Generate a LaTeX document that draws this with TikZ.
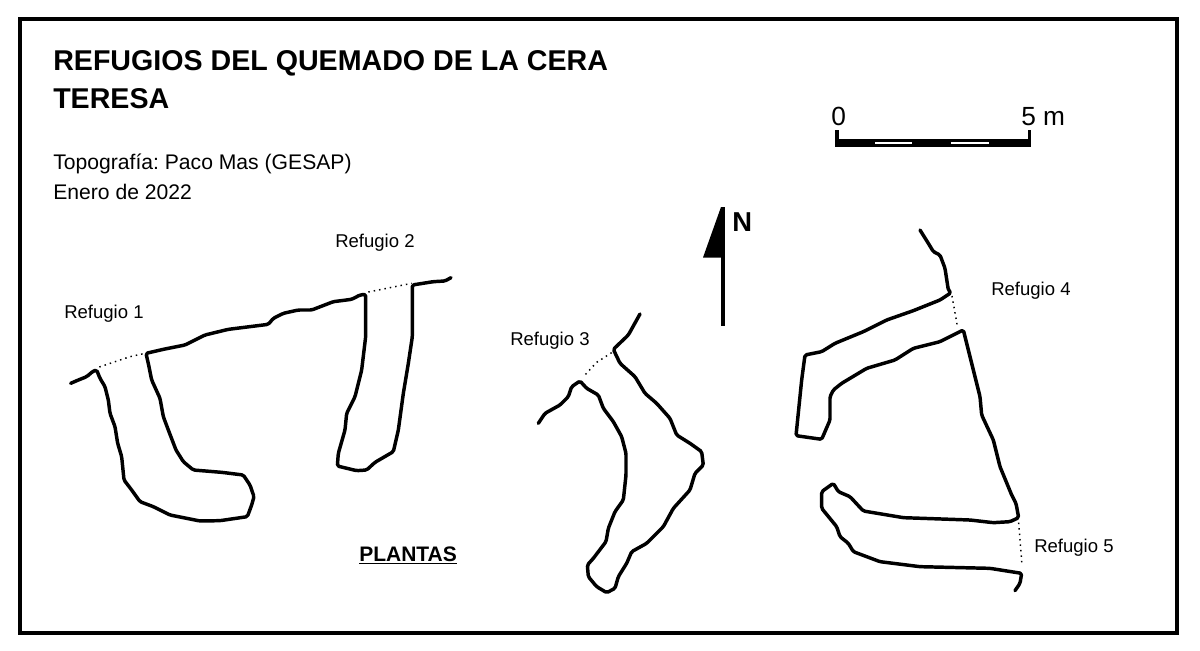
\documentclass[tikz,border=0pt]{standalone}
\usepackage{fontspec}
\setmainfont{Liberation Sans}
\frenchspacing
\tikzset{
  x=0.75pt,y=-0.75pt,
  wall/.style={line width=2.6pt,line join=round,line cap=round,rounded corners=1.2pt},
  dots/.style={line width=1.1pt,dash pattern=on 1.1pt off 3pt},
  titletxt/.style={anchor=base west,inner sep=0pt,font=\fontsize{21.46pt}{24pt}\selectfont\bfseries},
  smalltxt/.style={anchor=base west,inner sep=0pt,font=\fontsize{15.85pt}{18pt}\selectfont},
  reftxt/.style={anchor=base west,inner sep=0pt,font=\fontsize{13.9pt}{16pt}\selectfont},
  scaletxt/.style={anchor=base west,inner sep=0pt,font=\fontsize{19.7pt}{22pt}\selectfont},
  zoomA/.style={shift={(50,230)},x=0.25pt,y=-0.25pt},
  zoomB/.style={shift={(500,200)},x=0.25pt,y=-0.25pt},
  zoomC/.style={shift={(780,220)},x=0.25pt,y=-0.25pt},
}
\begin{document}
\begin{tikzpicture}
\useasboundingbox (0,0) rectangle (1200,650);
\fill[white] (0,0) rectangle (1200,650);
\draw[line width=2.8pt] (20,19) rectangle (1177,633);
\node[titletxt] (t1) at (53,70) {REFUGIOS DEL QUEMADO DE LA CERA};
\node[titletxt] (t2) at (53,108) {TERESA};
\node[smalltxt] (t3) at (53,169) {Topografía: Paco Mas (GESAP)};
\node[smalltxt] (t4) at (53,199) {Enero de 2022};
\node[reftxt] (r1) at (64,318) {Refugio 1};
\node[reftxt] (r2) at (335,247) {Refugio 2};
\node[reftxt] (r3) at (510,345) {Refugio 3};
\node[reftxt] (r4) at (991,295) {Refugio 4};
\node[reftxt] (r5) at (1034,552) {Refugio 5};
\node[anchor=base west,inner sep=0pt,font=\fontsize{15.75pt}{18pt}\selectfont\bfseries] (pl) at (359,561) {\underline{PLANTAS}};
\node[anchor=base west,inner sep=0pt,font=\fontsize{20.5pt}{22pt}\selectfont\bfseries] (north) at (732,231) {N};
% scale bar
\node[scaletxt] (s0) at (831,125) {0};
\node[scaletxt] (s5) at (1021,125) {5 m};
\fill (835,130) rectangle (838.5,147);
\fill (1027.5,130) rectangle (1031,147);
\fill (835,139) rectangle (1031,147);
\fill[white] (875,142) rectangle (912,143.6);
\fill[white] (951,142) rectangle (989,143.6);
% north arrow
\fill (721,207) -- (703,257.5) -- (721,257.5) -- cycle;
\fill (721,207) rectangle (724.8,325.5);
% refugios 1-2
\begin{scope}[zoomA]
\draw[wall] (62,460)--(85,450)--(110,440)--(130,423)--(140,420)
 --(150,445)--(165,470)--(175,510)--(180,550)--(195,590)--(203,640)--(215,680)--(222,750)--(245,780)--(270,815)--(310,830)--(360,855)--(450,873)--(510,872)--(592,860)--(605,825)--(612,800)--(600,765)--(580,735)--(515,727)--(430,720)--(400,695)--(378,660)--(355,600)--(340,560)--(330,505)--(305,450)--(297,410)--(288,370)
 --(340,358)--(405,345)--(465,315)--(535,298)--(655,283)--(670,265)--(700,250)--(745,240)--(785,240)--(850,215)--(905,208)--(930,195)--(947,193)
 --(947,320)--(935,420)--(915,500)--(890,550)--(885,600)--(865,670)--(862,708)--(920,722)--(950,720)--(975,697)--(1030,665)--(1045,600)--(1060,490)--(1075,400)--(1087,320)--(1087,165)--(1150,155)--(1185,153)--(1203,143);
\draw[dots] (148,411)--(240,380)--(285,370);
\draw[dots] (955,186)--(1085,160);
\end{scope}
% refugio 3
\begin{scope}[zoomB]
\draw[wall] (115,670)--(135,640)--(180,615)--(205,590)--(215,560)--(240,543)
 --(260,565)--(295,585)--(310,625)--(340,665)--(365,710)--(378,760)--(378,825)--(370,900)--(345,935)--(325,985)--(318,1025)--(280,1075)--(262,1095)--(265,1130)--(290,1160)--(320,1178)--(345,1165)--(355,1130)--(380,1090)--(395,1055)--(440,1030)--(490,980)--(520,925)--(570,870)--(585,820)--(610,795)--(605,755)--(570,730)--(530,705)--(510,655)--(470,610)--(435,580)--(405,530)--(360,490)--(340,448)--(385,405)--(420,342);
\draw[dots] (335,458)--(290,487)--(250,530);
\end{scope}
% refugios 4-5
\begin{scope}[zoomC]
\draw[wall] (420,30)--(445,70)--(460,95)--(480,105)--(495,145)--(505,210)--(513,218)
 --(480,240)--(400,272)--(320,300)--(250,335)--(165,370)--(125,395)--(75,405)--(65,480)--(48,647)--(125,658)--(150,600)--(150,530)--(160,510)--(185,490)--(260,445)--(345,420)--(400,385)--(480,365)--(550,330)
 --(575,430)--(600,530)--(605,585)--(640,660)--(660,740)--(695,825)--(708,850)--(716,893)--(690,905)--(640,908)--(570,900)--(370,893)--(250,873)--(210,830)--(175,815)--(160,790)--(125,815)--(125,865)--(170,920)--(180,950)--(205,970)--(220,995)--(300,1025)--(420,1040)--(630,1045)--(725,1060)--(720,1090)--(705,1112);
\draw[dots] (516,228)--(532,318);
\draw[dots] (716,908)--(726,1035);
\end{scope}
\end{tikzpicture}
\end{document}
